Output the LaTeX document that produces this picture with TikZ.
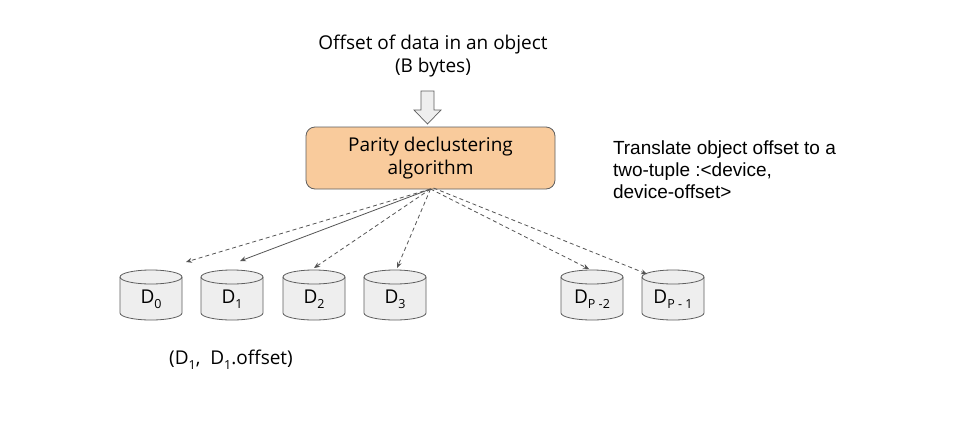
\documentclass[tikz,border=0pt]{standalone}
\usepackage{fontspec}
\setmainfont{Open Sans}
\newfontfamily\arialfont{Liberation Sans}
\usetikzlibrary{arrows.meta,calc}
\definecolor{boxfill}{HTML}{F9CB9C}
\definecolor{boxline}{HTML}{5F5F5F}
\definecolor{cylfill}{HTML}{EEEEEE}
\definecolor{linegray}{HTML}{555555}
\newcommand{\dsub}[1]{\raisebox{-5pt}{\fontsize{12.5}{13}\selectfont #1}}
\begin{document}
\begin{tikzpicture}[x=1pt,y=-1pt,
  every node/.style={inner sep=0pt,outer sep=0pt},
  txt/.style={font=\fontsize{19}{23}\selectfont,align=center,text=black},
  algbox/.style={draw=boxline,fill=boxfill,rounded corners=9pt,line width=0.8pt,
     minimum width=249pt,minimum height=62pt,font=\fontsize{19}{23}\selectfont,align=center},
  disk/.style={minimum width=62pt,minimum height=50pt,font=\fontsize{19}{20}\selectfont},
  conn/.style={draw=linegray,line width=0.8pt,-{Stealth[length=6pt,width=5pt]}},
  dconn/.style={conn,dash pattern=on 4pt off 3pt},
]
\useasboundingbox (0,0) rectangle (960,421);
\fill[white] (0,0) rectangle (960,421);

% top text
\node[txt] (intext) at (433,56) {Offset of data in an object\\(B bytes)};

% big arrow
\draw[draw=boxline,fill=cylfill,line width=0.7pt,line join=miter]
  (421,91) -- (434,91) -- (434,110) -- (441,110) -- (427.5,124) -- (414,110) -- (421,110) -- cycle;

% algorithm box
\node[algbox] (alg) at (430.5,158) {Parity declustering\\algorithm};

% right note
\node[anchor=north west,align=left,font=\arialfont\fontsize{19}{22}\selectfont] (note) at (613,141)
  {Translate object offset to a\\two-tuple :<device,\\device-offset>};

% disks
\foreach \n/\cx/\lab in {d0/151/{D\dsub{0}},d1/232/{D\dsub{1}},d2/314/{D\dsub{2}},d3/395/{D\dsub{3}},dp2/592/{D\dsub{P -2}},dp1/673/{D\dsub{P - 1}}}{
  \fill[cylfill] (\cx-31,277) -- (\cx-31,313) arc[start angle=180,end angle=0,x radius=31,y radius=7]
     -- (\cx+31,277) arc[start angle=0,end angle=-180,x radius=31,y radius=7] -- cycle;
  \draw[boxline,line width=0.8pt] (\cx-31,277) -- (\cx-31,313) arc[start angle=180,end angle=0,x radius=31,y radius=7]
     -- (\cx+31,277);
  \draw[boxline,line width=0.8pt] (\cx,277) ellipse[x radius=31,y radius=7];
  \node[disk] (\n) at (\cx,299) {\lab};
}

% arrow targets
\coordinate (t0) at (186,262);
\coordinate (t1) at (240,261);
\coordinate (t2) at (314,268);
\coordinate (t3) at (397,268);
\coordinate (tp2) at (589,269);
\coordinate (tp1) at (647,274);

\draw[dconn] (alg.south) -- (t0);
\draw[conn] (alg.south) -- (t1);
\draw[dconn] (alg.south) -- (t2);
\draw[dconn] (alg.south) -- (t3);
\draw[dconn] (alg.south) -- (tp2);
\draw[dconn] ([xshift=3pt,yshift=1pt]alg.south) -- (tp1);

% bottom label
\node[txt] (lab) at (231,360) {(D\dsub{1},\ \ D\dsub{1}.offset)};
\end{tikzpicture}
\end{document}
